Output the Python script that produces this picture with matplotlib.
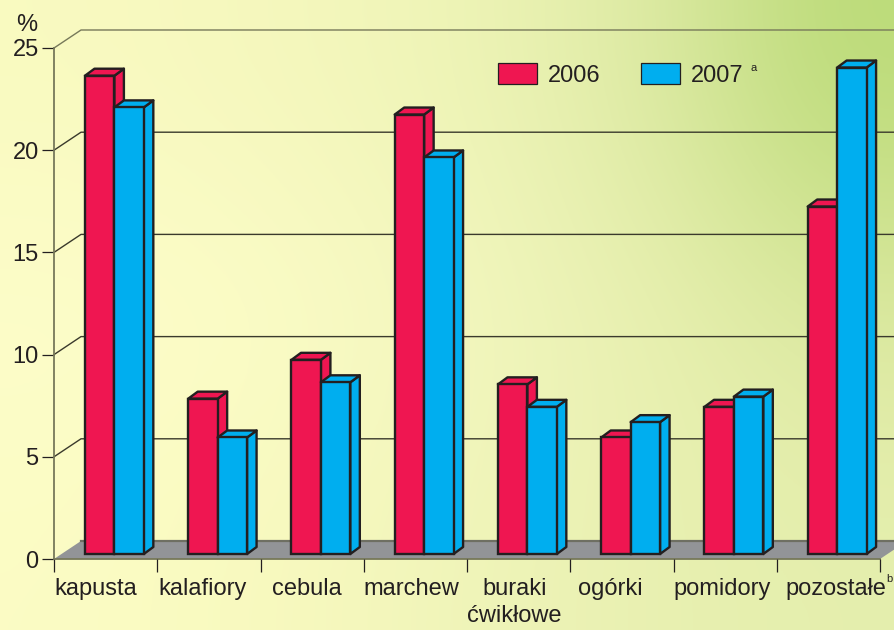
import matplotlib
import numpy as np

matplotlib.use('Agg')
import matplotlib.pyplot as plt
from matplotlib.colors import to_rgb
from matplotlib.patches import Patch, Polygon

plt.rcParams['font.family'] = ['Liberation Sans', 'DejaVu Sans']

categories = ['kapusta', 'kalafiory', 'cebula', 'marchew', 'buraki\nćwikłowe',
              'ogórki', 'pomidory', 'pozostałe']
values_2006 = [23.4, 7.6, 9.5, 21.5, 8.3, 5.7, 7.2, 17.0]
values_2007 = [21.85, 5.7, 8.4, 19.4, 7.2, 6.45, 7.7, 23.8]
y_ticks = [0, 5, 10, 15, 20, 25]

W, H = 895, 630
RED = '#EF1651'
BLUE = '#00AEEF'
INK = '#231F20'
OLIVE = '#77795A'
FS = 17

# pixel geometry of the front plane
X0, X1, Y0, Y25 = 54, 880, 559, 48
PX_X = (X1 - X0) / 8
PX_Y = (Y0 - Y25) / 25
WALL_DX, WALL_DY = 27 / PX_X, 18 / PX_Y    # depth of the chart box
BAR_DX, BAR_DY = 9.5 / PX_X, 7 / PX_Y      # depth of one bar
LIFT = 5 / PX_Y
BAR_W = 0.285
BAR_OFF = 0.30
LABEL_SHIFT = [-0.098, -0.062, -0.05, -0.035, -0.04, -0.11, -0.03, 0.075]

fig = plt.figure(figsize=(W / 100, H / 100), dpi=100)

# background wash
bg = fig.add_axes([0, 0, 1, 1], zorder=0)
bg.axis('off')
corners = np.array([
    [to_rgb(c) for c in row] for row in [
        ['#F9FAC0', '#F6F8BE', '#F2F6BA', '#EAF2B2', '#DAE8A0', '#BBDB78'],
        ['#FDFDCA', '#FDFDC9', '#F8FAC4', '#F0F5BC', '#E8F0B0', '#DDE9A2'],
        ['#FBFCC4', '#F9FABF', '#F4F7BC', '#EDF3B6', '#E8F0B0', '#E5EFAE'],
    ]])
bg.imshow(corners, aspect='auto', interpolation='bicubic',
          extent=(0, 1, 0, 1), origin='upper')

ax = fig.add_axes([X0 / W, 1 - Y0 / H, (X1 - X0) / W, (Y0 - Y25) / H], zorder=1)
ax.patch.set_alpha(0)
ax.set_xlim(0, 8)
ax.set_ylim(0, 25)
for side in ['top', 'right', 'bottom']:
    ax.spines[side].set_visible(False)
ax.spines['left'].set_color(OLIVE)
ax.spines['left'].set_linewidth(1.3)

# floor
far_x = 8 + WALL_DX
ax.add_patch(Polygon([(0, 0), (WALL_DX, WALL_DY), (far_x, WALL_DY), (8, 0)],
                     facecolor='#929497', edgecolor='none', clip_on=False, zorder=1))
ax.plot([WALL_DX, far_x], [WALL_DY, WALL_DY], color='#6E6F62', lw=1.6,
        clip_on=False, zorder=1.5)
ax.plot([0, 8], [0, 0], color=OLIVE, lw=1.3, clip_on=False, zorder=1.5)

# walls
for v in y_ticks[1:]:
    col = OLIVE if v == 25 else '#3A3A2C'
    ax.plot([0, WALL_DX, far_x], [v, v + WALL_DY, v + WALL_DY], color=col, lw=1.0,
            clip_on=False, zorder=1)


def draw_bar(left, value, color, z):
    right = left + BAR_W
    top = LIFT + value
    side = [(right, LIFT), (right + BAR_DX, LIFT + BAR_DY),
            (right + BAR_DX, top + BAR_DY), (right, top)]
    roof = [(left, top), (left + BAR_DX, top + BAR_DY),
            (right + BAR_DX, top + BAR_DY), (right, top)]
    for pts in (side, roof):
        ax.add_patch(Polygon(pts, facecolor=color, edgecolor=INK, linewidth=1.7,
                             joinstyle='round', clip_on=False, zorder=z))
    ax.bar(left, value, BAR_W, bottom=LIFT, align='edge', color=color,
           edgecolor=INK, linewidth=1.7, clip_on=False, zorder=z + 0.2)


for i, (a, b) in enumerate(zip(values_2006, values_2007)):
    draw_bar(i + BAR_OFF, a, RED, 2 + i)
    draw_bar(i + BAR_OFF + BAR_W, b, BLUE, 2.5 + i)

ax.set_yticks(y_ticks)
ax.set_xticks(range(9))
ax.set_xticklabels([])
ax.tick_params(axis='y', length=9, width=0.9, color=INK, labelsize=FS,
               labelcolor=INK, pad=2)
ax.tick_params(axis='x', length=9, width=0.9, color=INK)

for i, name in enumerate(categories):
    ax.annotate(name, xy=(i + 0.5 + LABEL_SHIFT[i], 0), xytext=(0, -13.5),
                textcoords='offset points', ha='center', va='top', fontsize=FS,
                color=INK, linespacing=1.32, annotation_clip=False)

fig.text(889 / W, 1 - 579 / H, 'b', fontsize=8, color=INK, ha='center', va='center',
         zorder=5)
fig.text(27 / W, 1 - 25 / H, '%', fontsize=FS, color=INK, ha='center', va='center')

handles = [Patch(facecolor=RED, edgecolor=INK, linewidth=0.9, label='2006'),
           Patch(facecolor=BLUE, edgecolor=INK, linewidth=0.9, label='2007')]
ax.legend(handles=handles, ncol=2, frameon=False, fontsize=FS, handlelength=1.65,
          handleheight=1.0, handletextpad=0.47, columnspacing=1.72, borderpad=0,
          borderaxespad=0, loc='upper left',
          bbox_to_anchor=(498 / W, 1 - 63 / H), bbox_transform=fig.transFigure,
          labelcolor=INK)
fig.text(754 / W, 1 - 68 / H, 'a', fontsize=8, color=INK, ha='center', va='center',
         zorder=5)

fig.savefig('out.png', dpi=100)
plt.close(fig)
